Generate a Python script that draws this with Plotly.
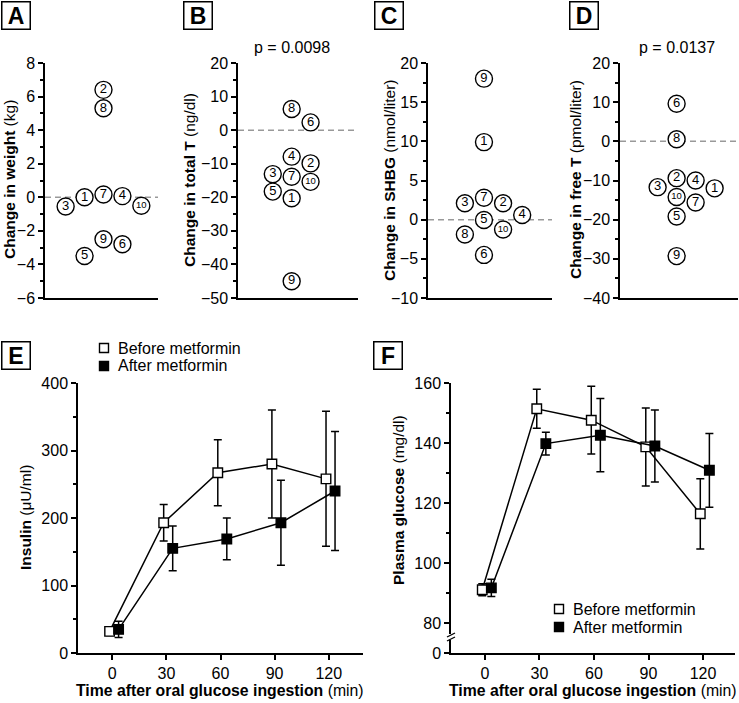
import plotly.graph_objects as go

W, H = 739, 703
FONT = "Liberation Sans, Arial, sans-serif"

# ---------------- data ----------------
subjects = [1, 2, 3, 4, 5, 6, 7, 8, 9, 10]

weight_change = [0.0, 6.4, -0.55, 0.07, -3.5, -2.8, 0.17, 5.3, -2.5, -0.5]
weight_slot = [2, 3, 1, 4, 2, 4, 3, 3, 3, 5]

totalT_change = [-20.3, -9.9, -13.1, -7.9, -18.3, 2.3, -13.9, 6.3, -45.0, -15.4]
totalT_slot = [3, 4, 2, 3, 2, 4, 3, 3, 3, 4]

shbg_change = [9.9, 2.1, 2.1, 0.6, -0.05, -4.5, 2.8, -1.9, 18.0, -1.25]
shbg_slot = [3, 4, 2, 5, 3, 3, 3, 2, 3, 4]

freeT_change = [-12.0, -9.4, -11.7, -10.0, -19.2, 9.6, -15.6, 0.55, -29.3, -14.2]
freeT_slot = [5, 3, 2, 4, 3, 3, 4, 3, 3, 3]

times = [0, 30, 60, 90, 120]
insulin_before = [32, 193, 267, 280, 258]
insulin_before_sem = [6, 27, 49, 80, 100]
insulin_after = [35, 155, 169, 193, 240]
insulin_after_sem = [12, 33, 31, 63, 88]

glucose_before = [91.1, 151.4, 147.6, 138.7, 116.4]
glucose_before_sem = [2.0, 6.5, 11.3, 13.0, 11.7]
glucose_after = [91.7, 139.8, 142.6, 139.0, 130.9]
glucose_after_sem = [2.9, 3.8, 12.2, 12.0, 12.3]

series_names = ["Before metformin", "After metformin"]
p_totalT = "p = 0.0098"
p_freeT = "p = 0.0137"


def px_x(v):
    return v / W


def px_y(v):
    return 1 - v / H


fig = go.Figure()

# ---------------- swarm panels ----------------
swarm_specs = [
    ("x", "y", weight_slot, weight_change),
    ("x2", "y2", totalT_slot, totalT_change),
    ("x3", "y3", shbg_slot, shbg_change),
    ("x4", "y4", freeT_slot, freeT_change),
]
for xa, ya, slots, vals in swarm_specs:
    fig.add_trace(go.Scatter(
        x=slots, y=vals, xaxis=xa, yaxis=ya, mode="markers+text",
        text=[str(s) for s in subjects],
        textposition="middle center",
        textfont=dict(family=FONT, color="black",
                      size=[9.5 if s == 10 else 13 for s in subjects]),
        marker=dict(symbol="circle", size=17, color="white",
                    line=dict(color="black", width=1.4)),
        showlegend=False, hoverinfo="skip", cliponaxis=False,
    ))

# ---------------- OGTT panels ----------------
off_before, off_after = -1.5, 3.5


def ogtt(xa, ya, vals, sem, offset, filled, name):
    fig.add_trace(go.Scatter(
        x=[t + offset for t in times], y=vals, xaxis=xa, yaxis=ya,
        mode="lines+markers", name=name,
        line=dict(color="black", width=1.5),
        marker=dict(symbol="square", size=9.5,
                    color="black" if filled else "white",
                    line=dict(color="black", width=1.4)),
        error_y=dict(type="data", array=sem, symmetric=True,
                     color="black", thickness=1.5, width=4),
        showlegend=False, hoverinfo="skip", cliponaxis=False,
    ))


ogtt("x5", "y5", insulin_before, insulin_before_sem, off_before, False, series_names[0])
ogtt("x5", "y5", insulin_after, insulin_after_sem, off_after, True, series_names[1])
ogtt("x6", "y6", glucose_before, glucose_before_sem, off_before, False, series_names[0])
ogtt("x6", "y6", glucose_after, glucose_after_sem, off_after, True, series_names[1])

# ---------------- axes ----------------
TOP, BOT = 63, 298
TOP2, BOT2 = 383, 653
TICKFONT = dict(family=FONT, size=16, color="black")


def yaxis(anchor, dom, rng, dtick, minor_dtick):
    return dict(
        anchor=anchor, domain=dom, range=rng, showline=True, linecolor="black",
        linewidth=1.5, ticks="outside", ticklen=5, tickwidth=1.5, tickcolor="black",
        tick0=0, dtick=dtick, showgrid=False, zeroline=False, automargin=False,
        tickfont=TICKFONT,
        minor=dict(ticks="outside", ticklen=3, tickwidth=1.5, tickcolor="black",
                   dtick=minor_dtick, tick0=0, showgrid=False),
        fixedrange=True,
    )


def xaxis_blank(anchor, dom, rng):
    return dict(anchor=anchor, domain=dom, range=rng, showline=True,
                linecolor="black", linewidth=1.5, ticks="", showticklabels=False,
                showgrid=False, zeroline=False, fixedrange=True, automargin=False)


ydom_top = [px_y(BOT), px_y(TOP)]
ydom_bot = [px_y(BOT2), px_y(TOP2)]

xr_A = [-0.09, 5.88]
xr_B = [0.16, 6.51]
xr_C = [0.07, 6.56]
xr_D = [0.02, 6.23]

layout_axes = dict(
    xaxis=xaxis_blank("y", [px_x(45), px_x(158)], xr_A),
    yaxis=yaxis("x", ydom_top, [-6, 8], 2, 1),
    xaxis2=xaxis_blank("y2", [px_x(238), px_x(358)], xr_B),
    yaxis2=yaxis("x2", ydom_top, [-50, 20], 10, 5),
    xaxis3=xaxis_blank("y3", [px_x(428), px_x(552)], xr_C),
    yaxis3=yaxis("x3", ydom_top, [-10, 20], 5, 2.5),
    xaxis4=xaxis_blank("y4", [px_x(620), px_x(738)], xr_D),
    yaxis4=yaxis("x4", ydom_top, [-40, 20], 10, 5),
)

time_axis = dict(showline=True, linecolor="black", linewidth=1.5, ticks="outside",
                 ticklen=5, tickwidth=1.5, tickcolor="black", automargin=False,
                 tickvals=times, showgrid=False, zeroline=False,
                 tickfont=TICKFONT, fixedrange=True)

layout_axes["xaxis5"] = dict(time_axis, anchor="y5", domain=[px_x(78), px_x(363)], range=[-19, 139])
layout_axes["yaxis5"] = yaxis("x5", ydom_bot, [0, 400], 100, 50)
layout_axes["xaxis6"] = dict(time_axis, anchor="y6", domain=[px_x(451), px_x(735)], range=[-18.7, 137.6])
y6 = yaxis("x6", ydom_bot, [70, 160], 20, 10)
y6.update(tickmode="array", tickvals=[70, 80, 100, 120, 140, 160],
          ticktext=["0", "80", "100", "120", "140", "160"])
y6["minor"] = dict(ticks="outside", ticklen=3, tickwidth=1.5, tickcolor="black",
                   tickmode="array", tickvals=[90, 110, 130, 150], showgrid=False)
layout_axes["yaxis6"] = y6

fig.update_layout(**layout_axes)

# ---------------- shapes ----------------
shapes = []
for xa, ya, xr in [("x", "y", xr_A), ("x2", "y2", xr_B), ("x3", "y3", xr_C), ("x4", "y4", xr_D)]:
    shapes.append(dict(type="line", xref=xa, yref=ya, x0=xr[0], x1=xr[1], y0=0, y1=0,
                       line=dict(color="#999999", width=1.5, dash="6px,4px"), layer="below"))

# axis break on panel F
shapes.append(dict(type="rect", xref="paper", yref="paper",
                   x0=px_x(448), x1=px_x(454), y0=px_y(640), y1=px_y(634),
                   line=dict(width=0), fillcolor="white", layer="above"))
for yy in (633, 637):
    shapes.append(dict(type="line", xref="paper", yref="paper",
                       x0=px_x(447), y0=px_y(yy + 4), x1=px_x(455), y1=px_y(yy),
                       line=dict(color="black", width=1.3), layer="above"))

# ---------------- annotations ----------------
ann = []


def text_ann(x, y, txt, size=15.5, angle=0, xanchor="center"):
    ann.append(dict(xref="paper", yref="paper", x=px_x(x), y=px_y(y), text=txt,
                    showarrow=False, textangle=angle, xanchor=xanchor, yanchor="middle",
                    font=dict(family=FONT, size=size, color="black")))


# legend keys (squares drawn as shapes, labels as text)
for sx, sy, tx in [(104, 348, 118), (559, 609, 573)]:
    for i, filled in enumerate([False, True]):
        cy = sy + 18 * i
        shapes.append(dict(type="rect", xref="paper", yref="paper",
                           x0=px_x(sx - 4.5), x1=px_x(sx + 4.5),
                           y0=px_y(cy + 4.5), y1=px_y(cy - 4.5),
                           line=dict(color="black", width=1.4),
                           fillcolor="black" if filled else "white", layer="above"))
        text_ann(tx - 2, cy, series_names[i], size=16, xanchor="left")

text_ann(10, 180, "<b>Change in weight</b> (kg)", angle=-90)
text_ann(190, 180, "<b>Change in total T</b> (ng/dl)", angle=-90)
text_ann(390, 180, "<b>Change in SHBG</b> (nmol/liter)", angle=-90)
text_ann(576, 180, "<b>Change in free T</b> (pmol/liter)", angle=-90)
text_ann(25, 518, "<b>Insulin</b> (μU/ml)", angle=-90)
text_ann(398, 500, "<b>Plasma glucose</b> (mg/dl)", angle=-90)
text_ann(220, 690, "<b>Time after oral glucose ingestion</b> (min)", size=15.8)
text_ann(593, 690, "<b>Time after oral glucose ingestion</b> (min)", size=15.8)
text_ann(292, 47, p_totalT, size=16)
text_ann(677, 47, p_freeT, size=16)

for letter, cx, cy in [("A", 16, 15), ("B", 198, 15), ("C", 389, 15), ("D", 584, 15),
                       ("E", 16, 355), ("F", 388, 355)]:
    ann.append(dict(xref="paper", yref="paper", x=px_x(cx), y=px_y(cy),
                    text="<b>%s</b>" % letter, showarrow=False,
                    xanchor="center", yanchor="middle", width=25, height=24,
                    bordercolor="black", borderwidth=1.5, borderpad=1,
                    font=dict(family=FONT, size=23, color="black")))

fig.update_layout(
    width=W, height=H, margin=dict(l=0, r=0, t=0, b=0, pad=0, autoexpand=False),
    paper_bgcolor="white", plot_bgcolor="white",
    shapes=shapes, annotations=ann, showlegend=False,
    font=dict(family=FONT, color="black"),
)

fig.write_html("out.html", config={"displayModeBar": False},
               post_script="document.body.style.margin='0';document.body.style.padding='0';")
